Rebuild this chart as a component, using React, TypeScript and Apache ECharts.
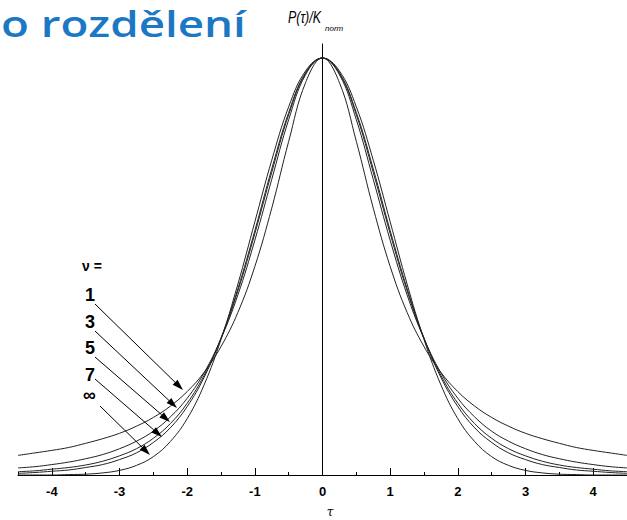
import React, { useEffect, useRef } from 'react';
import * as echarts from 'echarts';

// tau grid
const TAU = [-4.5, -4.25, -4, -3.75, -3.5, -3.25, -3, -2.75, -2.5, -2.25, -2, -1.75, -1.5, -1.25, -1, -0.75, -0.5, -0.25, 0, 0.25, 0.5, 0.75, 1, 1.25, 1.5, 1.75, 2, 2.25, 2.5, 2.75, 3, 3.25, 3.5, 3.75, 4, 4.25, 4.5];

// P(tau)/k_norm read for each nu
const P_NU1 = [0.047, 0.053, 0.059, 0.066, 0.076, 0.087, 0.100, 0.117, 0.138, 0.165, 0.200, 0.246, 0.308, 0.390, 0.500, 0.640, 0.800, 0.941, 1.000, 0.941, 0.800, 0.640, 0.500, 0.390, 0.308, 0.246, 0.200, 0.165, 0.138, 0.117, 0.100, 0.087, 0.076, 0.066, 0.059, 0.053, 0.047];
const P_NU3 = [0.017, 0.020, 0.025, 0.031, 0.039, 0.049, 0.063, 0.081, 0.105, 0.139, 0.184, 0.245, 0.327, 0.432, 0.563, 0.709, 0.852, 0.960, 1.000, 0.960, 0.852, 0.709, 0.563, 0.432, 0.327, 0.245, 0.184, 0.139, 0.105, 0.081, 0.063, 0.049, 0.039, 0.031, 0.025, 0.020, 0.017];
const P_NU5 = [0.008, 0.010, 0.014, 0.018, 0.024, 0.033, 0.046, 0.063, 0.088, 0.123, 0.172, 0.239, 0.328, 0.442, 0.579, 0.726, 0.864, 0.963, 1.000, 0.963, 0.864, 0.726, 0.579, 0.442, 0.328, 0.239, 0.172, 0.123, 0.088, 0.063, 0.046, 0.033, 0.024, 0.018, 0.014, 0.010, 0.008];
const P_NU7 = [0.004, 0.006, 0.009, 0.012, 0.018, 0.025, 0.037, 0.053, 0.078, 0.113, 0.164, 0.234, 0.328, 0.447, 0.586, 0.734, 0.869, 0.965, 1.000, 0.965, 0.869, 0.734, 0.586, 0.447, 0.328, 0.234, 0.164, 0.113, 0.078, 0.053, 0.037, 0.025, 0.018, 0.012, 0.009, 0.006, 0.004];
const P_NUINF = [0.000, 0.000, 0.000, 0.001, 0.002, 0.005, 0.011, 0.023, 0.044, 0.080, 0.135, 0.216, 0.325, 0.458, 0.607, 0.755, 0.883, 0.969, 1.000, 0.969, 0.883, 0.755, 0.607, 0.458, 0.325, 0.216, 0.135, 0.080, 0.044, 0.023, 0.011, 0.005, 0.002, 0.001, 0.000, 0.000, 0.000];

const NU_LABELS = ['1', '3', '5', '7', '∞'];
const MAJOR_TICKS = [-4, -3, -2, -1, 0, 1, 2, 3, 4];
const MINOR_TICKS = [-4.5, -3.5, -2.5, -1.5, -0.5, 0.5, 1.5, 2.5, 3.5, 4.5];

const SERIES_VALUES = [P_NU1, P_NU3, P_NU5, P_NU7, P_NUINF];

// annotation layout (pixels)
const LABEL_POS = [
  [85, 295],
  [85, 322],
  [85, 348],
  [85, 375],
  [83, 395],
];
const ARROWS = [
  [95, 304, 183, 390],
  [95, 331, 177, 408],
  [95, 357, 170, 422],
  [95, 379, 162, 437],
  [100, 406, 150, 455],
];

function arrow(sx: number, sy: number, tx: number, ty: number) {
  const dx = tx - sx;
  const dy = ty - sy;
  const L = Math.hypot(dx, dy);
  const ux = dx / L;
  const uy = dy / L;
  const hl = 11;
  const hw = 3.5;
  const bx = tx - ux * hl;
  const by = ty - uy * hl;
  return [
    {
      type: 'line',
      z: 100,
      shape: { x1: sx, y1: sy, x2: bx, y2: by },
      style: { stroke: '#000', lineWidth: 1 },
    },
    {
      type: 'polygon',
      z: 100,
      shape: {
        points: [
          [tx, ty],
          [bx - uy * hw, by + ux * hw],
          [bx + uy * hw, by - ux * hw],
        ],
      },
      style: { fill: '#000' },
    },
  ];
}

export default function App() {
  const ref = useRef<HTMLDivElement>(null);

  useEffect(() => {
    document.body.style.margin = '0';
    if (!ref.current) return;
    const chart = echarts.init(ref.current, null, { renderer: 'svg' });

    const graphics: any[] = [
      {
        type: 'text',
        z: 100,
        x: 1,
        y: 23,
        scaleX: 1.27,
        style: {
          text: 'o rozdělení',
          font: '600 36px "Open Sans", sans-serif',
          fill: '#1b78c4',
          verticalAlign: 'middle',
          align: 'left',
        },
      },
      {
        type: 'text',
        z: 100,
        x: 288,
        y: 17,
        scaleX: 0.78,
        style: {
          text: 'P(τ)/K',
          font: 'italic 16px "Liberation Sans", Arial, sans-serif',
          fill: '#000',
          verticalAlign: 'middle',
          align: 'left',
        },
      },
      {
        type: 'text',
        z: 100,
        x: 325,
        y: 28,
        style: {
          text: 'norm',
          font: 'italic 8px "Liberation Sans", Arial, sans-serif',
          fill: '#000',
          verticalAlign: 'middle',
          align: 'left',
        },
      },
      {
        type: 'text',
        z: 100,
        x: 330,
        y: 512,
        style: {
          text: 'τ',
          font: 'italic 12px "DejaVu Serif", serif',
          fill: '#000',
          verticalAlign: 'middle',
          align: 'center',
        },
      },
      {
        type: 'text',
        z: 100,
        x: 82,
        y: 266,
        style: {
          text: 'ν =',
          font: 'bold 14px "Liberation Sans", Arial, sans-serif',
          fill: '#000',
          verticalAlign: 'middle',
          align: 'left',
        },
      },
    ];
    NU_LABELS.forEach((lab, i) => {
      graphics.push({
        type: 'text',
        z: 100,
        x: LABEL_POS[i][0],
        y: LABEL_POS[i][1],
        style: {
          text: lab,
          font: 'bold 18px "Liberation Sans", Arial, sans-serif',
          fill: '#000',
          verticalAlign: 'middle',
          align: 'left',
        },
      });
    });
    ARROWS.forEach((a) => {
      graphics.push(...arrow(a[0], a[1], a[2], a[3]));
    });

    const option: any = {
      animation: false,
      backgroundColor: '#fff',
      grid: { left: 18, top: 44, width: 612, height: 431, containLabel: false },
      xAxis: [
        {
          type: 'value',
          min: -4.5,
          max: 4.5,
          position: 'bottom',
          axisLine: { show: true, onZero: false, lineStyle: { color: '#000', width: 1 } },
          axisTick: {
            show: true,
            inside: true,
            length: 7,
            customValues: MAJOR_TICKS,
            lineStyle: { color: '#000', width: 1 },
          },
          axisLabel: {
            customValues: MAJOR_TICKS,
            fontWeight: 'bold',
            fontSize: 13,
            color: '#000',
            fontFamily: '"Liberation Sans", Arial, sans-serif',
            margin: 10,
            formatter: (v: number) => String(v),
          },
          splitLine: { show: false },
        },
        {
          type: 'value',
          min: -4.5,
          max: 4.5,
          position: 'bottom',
          axisLine: { show: false },
          axisTick: {
            show: true,
            inside: true,
            length: 3,
            customValues: MINOR_TICKS,
            lineStyle: { color: '#000', width: 1 },
          },
          axisLabel: { show: false },
          splitLine: { show: false },
        },
      ],
      yAxis: {
        type: 'value',
        min: 0,
        max: 1.0336,
        axisLine: { show: true, onZero: true, onZeroAxisIndex: 0, lineStyle: { color: '#000', width: 1 } },
        axisTick: { show: false },
        axisLabel: { show: false },
        splitLine: { show: false },
      },
      series: SERIES_VALUES.map((vals, i) => ({
        type: 'line',
        name: NU_LABELS[i],
        xAxisIndex: 0,
        data: TAU.map((t, j) => [t, vals[j]]),
        showSymbol: false,
        symbol: 'none',
        smooth: 0.4,
        lineStyle: { color: '#222', width: 1 },
        silent: true,
      })),
      graphic: graphics,
    };
    chart.setOption(option);
    return () => chart.dispose();
  }, []);

  return (
    <div
      ref={ref}
      style={{ position: 'absolute', left: 0, top: 0, width: 627, height: 520 }}
    />
  );
}
